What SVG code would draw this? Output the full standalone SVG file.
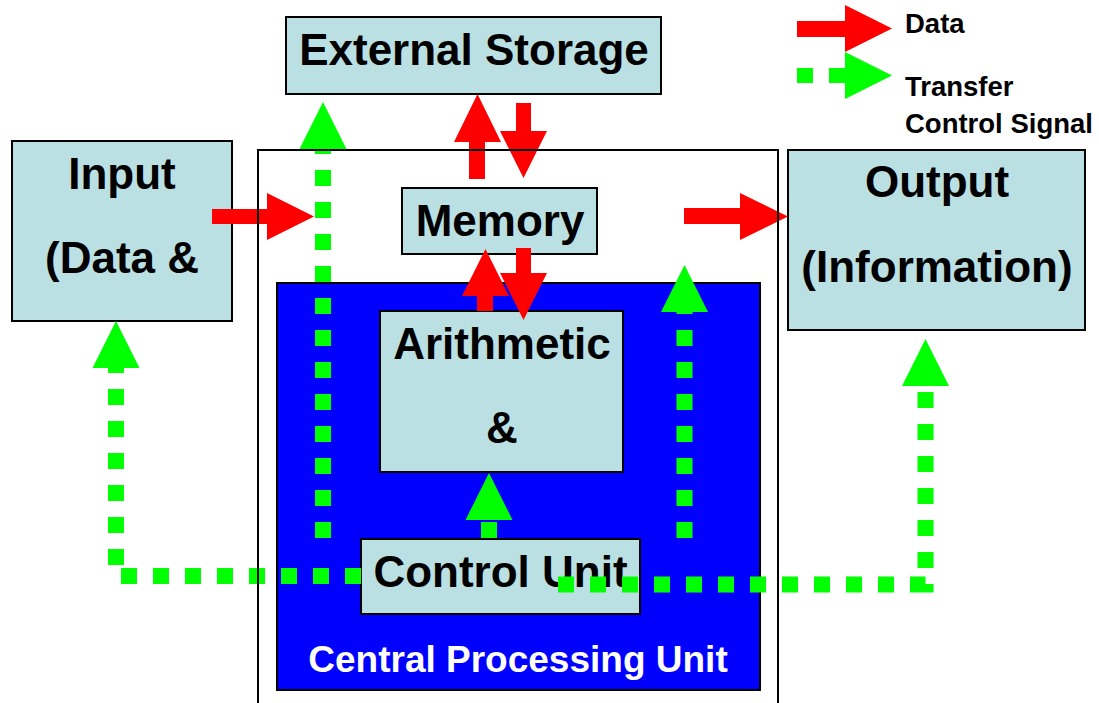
<svg xmlns="http://www.w3.org/2000/svg" width="1099" height="703" viewBox="0 0 1099 703">
  <style>
    .box { fill: #bbe0e3; stroke: #000; stroke-width: 2; }
    .cpu { fill: #0000ff; stroke: #000; stroke-width: 2; }
    .frame { fill: none; stroke: #000; stroke-width: 2; }
    .lbl { font-family: "Liberation Sans", Arial, sans-serif; font-weight: bold; font-size: 44px; fill: #000; text-anchor: middle; }
    .cpu-lbl { font-family: "Liberation Sans", Arial, sans-serif; font-weight: bold; font-size: 37px; fill: #fff; text-anchor: middle; }
    .key { font-family: "Liberation Sans", Arial, sans-serif; font-weight: bold; font-size: 27.5px; fill: #000; }
    .data { fill: #ff0000; }
    .ctl { fill: none; stroke: #00ff00; stroke-width: 16; stroke-dasharray: 16 16; stroke-linecap: butt; stroke-linejoin: miter; }
    .ctl-head { fill: #00ff00; }
  </style>
  <defs>
    <!-- control-signal arrowhead, tip at origin, pointing up -->
    <path id="ctlHead" class="ctl-head" d="M0,0 L23.5,47 L-23.5,47 Z"/>
  </defs>

  <rect width="1099" height="703" fill="#fff"/>

  <!-- CPU -->
  <g id="cpu">
    <rect class="cpu" x="277" y="283" width="483" height="407"/>
    <text class="cpu-lbl" x="518" y="672">Central Processing Unit</text>
  </g>

  <g id="external-storage">
    <rect class="box" x="286" y="17" width="375" height="77"/>
    <text class="lbl" x="474" y="65">External Storage</text>
  </g>

  <g id="input">
    <rect class="box" x="12" y="141" width="220" height="180"/>
    <text class="lbl" x="122" y="189">Input</text>
    <text class="lbl" x="122" y="273">(Data &amp;</text>
  </g>

  <g id="memory">
    <rect class="box" x="402" y="188" width="195" height="66"/>
    <text class="lbl" x="500" y="236">Memory</text>
  </g>

  <g id="output">
    <rect class="box" x="788" y="150" width="297" height="180"/>
    <text class="lbl" x="937" y="197">Output</text>
    <text class="lbl" x="937" y="282">(Information)</text>
  </g>

  <g id="alu">
    <rect class="box" x="380" y="311" width="243" height="161"/>
    <text class="lbl" x="502" y="359">Arithmetic</text>
    <text class="lbl" x="502" y="443">&amp;</text>
  </g>

  <g id="control-unit">
    <rect class="box" x="361" y="539" width="279" height="75"/>
    <text class="lbl" x="500.5" y="587">Control Unit</text>
  </g>

  <g id="connectors">
    <!-- data flow (red block arrows) -->
    <polygon class="data" points="212,209 267,209 267,193 314,216.5 267,240 267,224 212,224"/>
    <polygon class="data" points="684,208 740,208 740,193 788,216.5 740,240 740,224 684,224"/>
    <polygon class="data" points="477.5,94 501,142 485,142 485,179 469,179 469,142 454,142"/>
    <polygon class="data" points="516,103 531,103 531,131 547,131 523.5,178 500,131 516,131"/>
    <polygon class="data" points="485.5,249 509,296 493,296 493,311 477,311 477,296 462,296"/>
    <polygon class="data" points="516,248 531,248 531,273 547,273 523.5,320 500,273 516,273"/>

    <!-- control signals (green dotted arrows) -->
    <path class="ctl" d="M323,538 V149"/>
    <use href="#ctlHead" x="323" y="102"/>

    <path class="ctl" d="M489,538 V520"/>
    <use href="#ctlHead" x="489" y="473"/>

    <path class="ctl" d="M684.5,538 V312"/>
    <use href="#ctlHead" x="684.5" y="265"/>

    <path class="ctl" d="M361,576 H116 V368"/>
    <use href="#ctlHead" x="116" y="321"/>

    <path class="ctl" d="M558,584.5 H925.5 V386"/>
    <use href="#ctlHead" x="925.5" y="339"/>
  </g>

  <!-- computer system boundary -->
  <g id="system">
    <rect class="frame" x="258" y="150" width="520" height="570"/>
  </g>

  <!-- key -->
  <g id="legend">
    <polygon class="data" points="797,21 845,21 845,5 892,28.5 845,52 845,37 797,37"/>
    <text class="key" x="905" y="33">Data</text>
    <path class="ctl" d="M797,75.5 H845" style="stroke-width:15"/>
    <use href="#ctlHead" transform="translate(892,75.5) rotate(90)"/>
    <text class="key" x="905" y="96">Transfer</text>
    <text class="key" x="905" y="133">Control Signal</text>
  </g>
</svg>
